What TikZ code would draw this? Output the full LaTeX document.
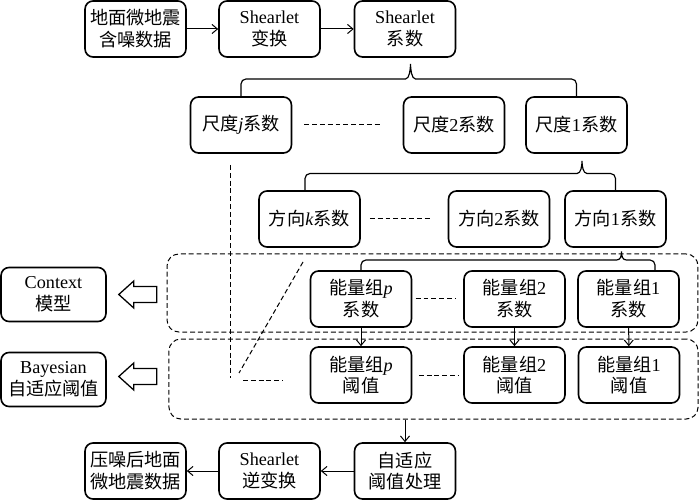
\documentclass[tikz,border=0pt]{standalone}
\usepackage{fontspec}
\setmainfont{Liberation Serif}
\newfontfamily\zhfont{Noto Sans CJK SC}
\newcommand{\zh}[1]{{\zhfont #1}}
\usetikzlibrary{calc, arrows.meta}

% bar with a cusp: left end, right end, cusp, level of the bar
\newcommand{\fork}[4]{%
	\draw[bar] (#1) -- ($(#1 |- #4)+(0,5)$)
		.. controls +(0,-2.8) and +(-2.8,0) .. ($(#1 |- #4)+(5,0)$)
		-- ($(#3 |- #4)+(-5,0)$)
		.. controls +(4,0) and +(0,5) .. (#3)
		.. controls +(0,5) and +(-4,0) .. ($(#3 |- #4)+(5,0)$)
		-- ($(#2 |- #4)+(-5,0)$)
		.. controls +(2.8,0) and +(0,-2.8) .. ($(#2 |- #4)+(0,5)$)
		-- (#2);}
% hollow arrow pointing left, tip given
\newcommand{\hollow}[1]{%
	\draw[fat] (#1) -- ++(15,-13.5) -- ++(0,5.5) -- ++(23,0) -- ++(0,16)
		-- ++(-23,0) -- ++(0,5.5) -- cycle;}

\begin{document}
\begin{tikzpicture}[x=0.55pt, y=-0.55pt,
	box/.style={draw, line width=0.9pt, rounded corners=4.4pt, minimum width=55.5pt,
		minimum height=30.8pt, align=center, inner sep=1pt, font=\fontsize{10}{12}\selectfont},
	side/.style={box, minimum width=57.7pt, minimum height=29.7pt},
	group/.style={draw, line width=0.55pt, dash pattern=on 2.7pt off 1.6pt, rounded corners=6.5pt},
	gap/.style={line width=0.55pt, dash pattern=on 2.7pt off 1.6pt},
	flow/.style={line width=0.55pt, -{Straight Barb[length=3pt,width=5pt]}},
	bar/.style={line width=0.65pt},
	fat/.style={line width=0.7pt}]

	\useasboundingbox (0,0) rectangle (700,500);

	\node[group, minimum width=292pt, minimum height=42.9pt] (g1) at (432.5,293) {};
	\node[group, minimum width=291pt, minimum height=44pt] (g2) at (433.5,379) {};

	\node[box] (raw) at (135.5,29) {\zh{地面微地震}\\\zh{含噪数据}};
	\node[box] (st) at (269.5,29) {Shearlet\\\zh{变换}};
	\node[box] (sc) at (405,29) {Shearlet\\\zh{系数}};

	\node[box] (sj) at (241,125) {\zh{尺度}\textit{j}\zh{系数}};
	\node[box] (s2) at (454,125) {\zh{尺度}2\zh{系数}};
	\node[box] (s1) at (576.5,125) {\zh{尺度}1\zh{系数}};

	\node[box] (dk) at (309.5,219) {\zh{方向}\textit{k}\zh{系数}};
	\node[box] (d2) at (499,219) {\zh{方向}2\zh{系数}};
	\node[box] (d1) at (615.5,219) {\zh{方向}1\zh{系数}};

	\node[box] (ep) at (361,299) {\zh{能量组}\textit{p}\\\zh{系数}};
	\node[box] (e2) at (514.5,299) {\zh{能量组}2\\\zh{系数}};
	\node[box] (e1) at (628.5,299) {\zh{能量组}1\\\zh{系数}};

	\node[box] (tp) at (361,375) {\zh{能量组}\textit{p}\\\zh{阈值}};
	\node[box] (t2) at (514.5,375) {\zh{能量组}2\\\zh{阈值}};
	\node[box] (t1) at (629,375) {\zh{能量组}1\\\zh{阈值}};

	\node[side] (ctx) at (53.5,294.5) {Context\\\zh{模型}};
	\node[side] (bay) at (53.5,379.5) {Bayesian\\\zh{自适应阈值}};

	\node[box] (ad) at (405,471) {\zh{自适应}\\\zh{阈值处理}};
	\node[box] (ist) at (269.5,471) {Shearlet\\\zh{逆变换}};
	\node[box] (out) at (135.5,471) {\zh{压噪后地面}\\\zh{微地震数据}};

	\draw[flow] (raw) -- (st);
	\draw[flow] (st) -- (sc);
	\draw[flow] (ep) -- (tp);
	\draw[flow] (e2) -- (t2);
	\draw[flow] (e1) -- (t1);
	\draw[flow] (ad.north |- g2.south) -- (ad.north);
	\draw[flow] (ad) -- (ist);
	\draw[flow] (ist) -- (out);

	\coordinate (k1) at ($(sc.south)+(5.5,6)$);
	\coordinate (m1) at (0,79);
	\fork{sj.north}{s1.north}{k1}{m1}

	\coordinate (k2) at ($(s1.south)+(5.5,7)$);
	\coordinate (m2) at (0,173.5);
	\coordinate (l2) at ($(dk.north)+(-4.5,0)$);
	\fork{l2}{d1.north}{k2}{m2}

	\coordinate (k3) at ($(d1.south)+(6,3.5)$);
	\coordinate (m3) at (0,260);
	\coordinate (r3) at ($(e1.north)+(26.5,0)$);
	\fork{ep.north}{r3}{k3}{m3}

	\draw[gap, shorten <=6.6pt, shorten >=11.5pt] (sj) -- (s2);
	\draw[gap, shorten <=5pt, shorten >=8.8pt] (dk) -- (d2);
	\draw[gap, shorten <=1.9pt, shorten >=3.9pt] (ep) -- (e2);
	\draw[gap, shorten <=3.6pt, shorten >=2.75pt] (tp) -- (t2);

	\coordinate (v1) at (230,165);
	\coordinate (v2) at (230,378);
	\coordinate (h1) at (243,380);
	\coordinate (h2) at (283,380);
	\coordinate (w1) at (303,262);
	\coordinate (w2) at (239,373);
	\draw[gap] (v1) -- (v2);
	\draw[gap] (h1) -- (h2);
	\draw[gap] (w1) -- (w2);

	\hollow{$(ctx.east)+(12,0)$}
	\hollow{$(bay.east)+(12,-3)$}
\end{tikzpicture}
\end{document}
